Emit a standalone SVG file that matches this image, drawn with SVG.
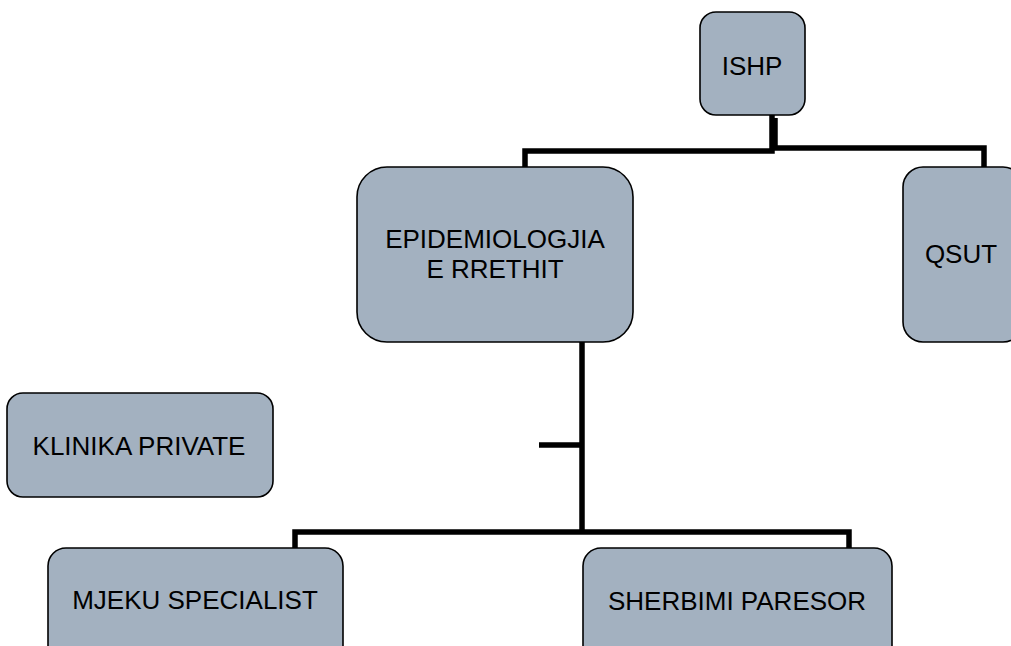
<svg xmlns="http://www.w3.org/2000/svg" width="1011" height="646" viewBox="0 0 1011 646">
<style>
.box{fill:#a3b1c0;stroke:#000;stroke-width:1.6}
.lbl{font-family:"Liberation Sans",Arial,sans-serif;font-size:26px;fill:#000;text-anchor:middle}
.con{fill:none;stroke:#000;stroke-width:5.5;stroke-linejoin:miter}
</style>
<rect width="1011" height="646" fill="#fff"/>
<g id="connectors">
<path class="con" d="M772 115 V151 H525 V168"/>
<path class="con" d="M775 118 V148 H984 V168"/>
<path class="con" d="M582 342 V532 M539 445 H582"/>
<path class="con" d="M295 548 V532 H849 V548"/>
</g>
<g id="ishp"><rect class="box" x="700" y="12" width="105" height="103" rx="16"/><text class="lbl" x="752" y="75">ISHP</text></g>
<g id="epidemiologjia"><rect class="box" x="357" y="167" width="276" height="175" rx="30"/><text class="lbl" x="495" y="248">EPIDEMIOLOGJIA</text><text class="lbl" x="495" y="278">E RRETHIT</text></g>
<g id="qsut"><rect class="box" x="903" y="167" width="120" height="175" rx="20"/><text class="lbl" x="961" y="263">QSUT</text></g>
<g id="klinika"><rect class="box" x="7" y="393" width="266" height="104" rx="16"/><text class="lbl" x="139" y="455">KLINIKA PRIVATE</text></g>
<g id="mjeku"><rect class="box" x="48" y="548" width="295" height="120" rx="18"/><text class="lbl" x="195" y="609">MJEKU SPECIALIST</text></g>
<g id="sherbimi"><rect class="box" x="583" y="548" width="309" height="120" rx="18"/><text class="lbl" x="737" y="610">SHERBIMI PARESOR</text></g>
</svg>
